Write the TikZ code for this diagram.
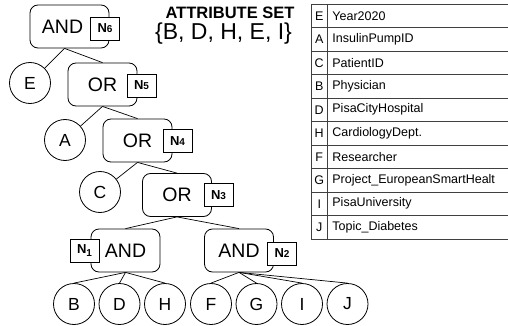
\documentclass[tikz,border=0pt]{standalone}
\usepackage{fontspec}
\setmainfont{Liberation Sans}
\begin{document}
\begin{tikzpicture}[x=1pt,y=-1pt,line width=0.8pt,
  gate/.style={draw, rounded corners=8pt, inner sep=0pt, minimum width=69pt, minimum height=43pt, font=\fontsize{19.5}{23}\selectfont},
  tag/.style={draw, fill=white, inner sep=0pt, minimum width=29pt, minimum height=23pt, font=\fontsize{13}{15}\selectfont\bfseries},
  leaf/.style={draw, circle, inner sep=0pt, minimum size=41pt, font=\fontsize{17.5}{20}\selectfont},
  cell/.style={anchor=west, inner sep=0pt, font=\fontsize{12.5}{15}\selectfont},
  letter/.style={inner sep=0pt, font=\fontsize{12.5}{15}\selectfont},
  grid/.style={draw=black!75, line width=0.8pt},
  link/.style={draw, line width=0.7pt}
]
\useasboundingbox (0,0) rectangle (508,326);

% gates
\node[gate, minimum width=79pt] (g6) at (69.5,26.5) {AND\rule{14pt}{0pt}};
\node[gate] (g5) at (102.5,84.5) {OR};
\node[gate] (g4) at (137.5,140.5) {OR};
\node[gate] (g3) at (177,195) {OR};
\node[gate] (g1) at (125.5,250.5) {AND};
\node[gate] (g2) at (239,250.5) {AND};

% tags
\newcommand{\dg}[1]{{\fontsize{10}{12}\selectfont #1}}
\node[tag] (n6) at (105,28.5) {N\dg{6}};
\node[tag] (n5) at (141.5,85.5) {N\dg{5}};
\node[tag] (n4) at (177.5,141) {N\dg{4}};
\node[tag] (n3) at (218.5,195) {N\dg{3}};
\node[tag] (n1) at (84.5,251) {N\raisebox{-3pt}{\dg{1}}};
\node[tag] (n2) at (282,253.5) {N\dg{2}};

% leaves
\node[leaf] (E) at (30,83) {E};
\node[leaf] (A) at (65,140) {A};
\node[leaf] (C) at (100,192) {C};
\node[leaf] (B) at (74,304) {B};
\node[leaf] (D) at (119.5,304) {D};
\node[leaf] (H) at (165,304) {H};
\node[leaf] (F) at (211,304) {F};
\node[leaf] (G) at (256.5,304) {G};
\node[leaf] (I) at (302,304) {I};
\node[leaf] (J) at (347.5,304) {J};

% connectors
\path[link] ([xshift=-5pt]g6.south) -- (E);
\path[link] ([xshift=-5pt]g6.south) -- (g5.north);
\path[link] (g5.south) -- (A);
\path[link] (g5.south) -- (g4.north);
\path[link] (g4.south) -- (C);
\path[link] (g4.south) -- (g3.north);
\path[link] (g3.south) -- (g1.north);
\path[link] (g3.south) -- (g2.north);
\path[link] (g1.south) -- (B.north);
\path[link] (g1.south) -- (D.north);
\path[link] (g1.south) -- (H.north);
\path[link] (g2.south) -- (F.north);
\path[link] (g2.south) -- (G.north);
\path[link] (g2.south) -- (I.north);
\path[link] (g2.south) -- (J.north);

% attribute set
\node[inner sep=0pt, font=\fontsize{16.5}{19}\selectfont\bfseries] (title) at (230,13) {ATTRIBUTE SET};
\node[inner sep=0pt, font=\fontsize{23}{26}\selectfont] (aset) at (223.5,34) {\{B, D, H, E, I\}};

% table
\foreach \k in {0,...,10} { \path[grid] (311,{4+23.5*\k}) -- (515,{4+23.5*\k}); }
\path[grid] (311,4) -- (311,239);
\path[grid] (327.5,4) -- (327.5,239);
\foreach \l/\t [count=\i from 0] in {E/Year2020, A/InsulinPumpID, C/PatientID, B/Physician, D/PisaCityHospital, H/CardiologyDept., F/Researcher, G/Project\_EuropeanSmartHealt, I/PisaUniversity, J/Topic\_Diabetes} {
  \node[letter] (l\i) at (319.25,{4+23.5*(\i+0.5)}) {\l};
  \node[cell] (t\i) at (332,{4+23.5*(\i+0.5)}) {\t};
}
\end{tikzpicture}
\end{document}
